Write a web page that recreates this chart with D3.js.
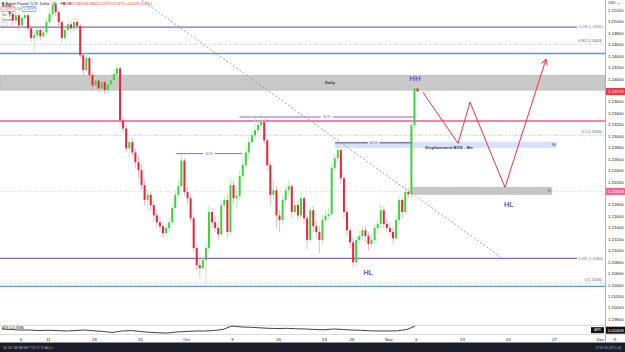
<!DOCTYPE html>
<html><head><meta charset="utf-8">
<script src="https://cdn.jsdelivr.net/npm/d3@7"></script>
<style>body{margin:0;background:#fff}svg{display:block;font-family:Arial,"Liberation Sans",sans-serif}</style>
</head><body><svg id="c" width="625" height="352"></svg>
<script>
// ---------- DATA ----------
const firstOpen = 1.2529;
const closes = [1.2523,1.2530,1.2513,1.2502,1.2511,1.2493,1.2506,1.2511,1.2488,1.2471,1.2476,1.2485,1.2474,1.2481,1.2499,1.2513,1.2529,1.2516,1.2499,1.2471,
1.2485,1.2495,1.2488,1.2499,1.2492,1.2441,1.2415,1.2436,1.2406,1.2388,1.2397,1.2383,1.2394,1.2380,1.2390,1.2397,1.2408,1.2418,1.2327,1.2313,
1.2278,1.2289,1.2271,1.2254,1.2240,1.2214,1.2188,1.2197,1.2179,1.2161,1.2149,1.2142,1.2130,1.2139,1.2149,1.2174,1.2197,1.2212,1.2257,1.2202,
1.2191,1.2156,1.2104,1.2074,1.2069,1.2083,1.2104,1.2167,1.2149,1.2139,1.2128,1.2179,1.2188,1.2132,1.2214,1.2191,1.2195,1.2230,1.2249,1.2271,
1.2289,1.2301,1.2310,1.2319,1.2324,1.2292,1.2249,1.2197,1.2205,1.2161,1.2153,1.2188,1.2205,1.2212,1.2167,1.2179,1.2161,1.2191,1.2156,1.2118,
1.2170,1.2142,1.2132,1.2118,1.2153,1.2160,1.2163,1.2244,1.2261,1.2275,1.2226,1.2167,1.2135,1.2114,1.2079,1.2118,1.2125,1.2135,1.2125,1.2111,
1.2118,1.2139,1.2146,1.2170,1.2146,1.2139,1.2132,1.2121,1.2153,1.2188,1.2167,1.2202,1.2198,1.2319,1.2383,1.23775];
const highs = [1.2534,1.2537,1.2532,1.2520,1.2516,1.2513,1.2513,1.2518,1.2513,1.2493,1.2485,1.2490,1.2488,1.2488,1.2506,1.2520,1.2535,1.2530,1.2520,1.2502,
1.2492,1.2502,1.2502,1.2506,1.2504,1.2495,1.2446,1.2446,1.2439,1.2411,1.2404,1.2401,1.2404,1.2401,1.2397,1.2408,1.2415,1.2425,1.2422,1.2334,
1.2320,1.2296,1.2296,1.2278,1.2265,1.2251,1.2223,1.2205,1.2202,1.2188,1.2170,1.2160,1.2149,1.2146,1.2156,1.2181,1.2205,1.2223,1.2270,1.2261,
1.2212,1.2197,1.2161,1.2109,1.2086,1.2090,1.2111,1.2179,1.2174,1.2160,1.2149,1.2188,1.2195,1.2198,1.2223,1.2223,1.2209,1.2240,1.2261,1.2278,
1.2299,1.2310,1.2336,1.2327,1.2338,1.2331,1.2296,1.2254,1.2223,1.2212,1.2170,1.2195,1.2214,1.2223,1.2216,1.2191,1.2188,1.2202,1.2195,1.2161,
1.2177,1.2179,1.2149,1.2142,1.2163,1.2170,1.2174,1.2251,1.2268,1.2287,1.2278,1.2233,1.2174,1.2142,1.2121,1.2125,1.2135,1.2142,1.2142,1.2132,
1.2128,1.2146,1.2156,1.2181,1.2177,1.2156,1.2149,1.2142,1.2163,1.2195,1.2191,1.2216,1.2209,1.2327,1.2387,1.2385];
const lows = [1.2516,1.2520,1.2506,1.2493,1.2495,1.2485,1.2488,1.2502,1.2481,1.2464,1.2446,1.2467,1.2467,1.2471,1.2478,1.2495,1.2511,1.2509,1.2492,1.2464,
1.2467,1.2479,1.2481,1.2485,1.2485,1.2436,1.2406,1.2411,1.2397,1.2380,1.2380,1.2376,1.2376,1.2373,1.2373,1.2383,1.2390,1.2401,1.2320,1.2306,
1.2271,1.2261,1.2265,1.2244,1.2226,1.2205,1.2177,1.2170,1.2167,1.2149,1.2139,1.2132,1.2121,1.2125,1.2132,1.2144,1.2170,1.2191,1.2209,1.2195,
1.2181,1.2149,1.2097,1.2065,1.2053,1.2065,1.2037,1.2097,1.2139,1.2132,1.2118,1.2125,1.2170,1.2121,1.2127,1.2181,1.2174,1.2188,1.2223,1.2244,
1.2261,1.2282,1.2296,1.2303,1.2310,1.2284,1.2240,1.2179,1.2188,1.2139,1.2132,1.2144,1.2179,1.2195,1.2156,1.2161,1.2153,1.2153,1.2146,1.2102,
1.2114,1.2132,1.2121,1.2095,1.2111,1.2149,1.2153,1.2160,1.2237,1.2254,1.2216,1.2156,1.2125,1.2104,1.2069,1.2072,1.2111,1.2118,1.2114,1.2100,
1.2104,1.2111,1.2128,1.2139,1.2139,1.2132,1.2125,1.2111,1.2118,1.2146,1.2156,1.2163,1.2191,1.2191,1.2313,1.2376];
const candlesPerDay = 3;
// ATR(14) read once per trading day
const atrValues = [0.00361,0.00354,0.00345,0.00345,0.00337,0.00341,0.00337,0.00329,0.00337,0.00345,0.00332,0.00321,0.00305,0.00329,0.00337,0.00321,
0.00308,0.00300,0.00296,0.00313,0.00321,0.00329,0.00329,0.00337,0.00354,0.00411,0.00395,0.00390,0.00381,0.00373,0.00370,0.00373,0.00365,0.00362,
0.00354,0.00349,0.00362,0.00354,0.00345,0.00341,0.00332,0.00329,0.00329,0.00332,0.00354,0.00408];
const atrDays = atrValues.map((v,i)=> i===atrValues.length-1 ? 44.9 : i);

// 1.23800 and 1.22000 are hidden behind the price tags in the reference
const priceTicks = [1.252,1.250,1.248,1.246,1.244,1.242,1.240,1.236,1.234,1.232,1.230,1.228,1.226,1.224,1.222,1.218,1.216,1.214,1.212,1.210,1.208,1.206,1.204,1.202,1.200,1.198];
const timeTickDays = [2,5,10,15,20,25,30,35,38,42,45,50,55,60,65];
const timeTickLabels = ["6","11","18","25","Oct","9","16","23","26","Nov","6","13","20","27","Dec"];

const lastPrice = 1.23775, secondPrice = 1.22029, lastAtr = 0.00408;
const purpleLevels = [1.2490, 1.2086];
const purpleLabels = ["0.236 (1.24935)", "0.382 (1.20866)"];
const dottedLevels = [1.2460, 1.2301, 1.2043];
const dottedLabels = ["0.382 (1.24603)", "0.5 (1.23006)", "0 (1.20436)"];
const blueLevels = [1.2444, 1.2037];
const pinkLevels = [1.2326];
const dailyZone = [1.2380, 1.2406];
const displacementZone = {d0:36.2, d1:60.3, p0:1.2279, p1:1.2290};
const flZone = {d0:44.6, d1:59.8, p0:1.2197, p1:1.2211};
const bosPurple = [{d0:18.9, d1:26.1, p:1.2269}, {d0:25.8, d1:44.8, p:1.2333}];
const bosGray = [{d0:36.2, d1:44.6, p:1.2288}];
const trendLine = [[15.2,1.2537],[54.67,1.2083]];
const zigzag = [[45.76,1.2376],[49.57,1.2287],[50.87,1.2359],[54.67,1.2210],[59.13,1.2434]];
const swingLabels = [{t:"HH", d:44.9, p:1.2401},{t:"HL", d:39.8, p:1.2062},{t:"HL", d:55.1, p:1.2181}];

// ---------- CHART ----------
const svg = d3.select("#c");
const paneR = 605, mainBottom = 325, atrBottom = 334.5;
const x = d3.scaleLinear().domain([0,65]).range([2,600]);
const y = d3.scaleLinear().domain([1.198,1.252]).range([319,10]);
const ya = d3.scaleLinear().domain([0.0028,0.0046]).range([334,323]);

svg.append("rect").attr("width",625).attr("height",352).attr("fill","#fff");
svg.append("defs").append("clipPath").attr("id","mc").append("rect").attr("x",0).attr("y",0).attr("width",paneR).attr("height",mainBottom);
const g = svg.append("g").attr("clip-path","url(#mc)");

// zones
g.append("rect").attr("x",0).attr("width",paneR).attr("y",y(dailyZone[1])).attr("height",y(dailyZone[0])-y(dailyZone[1]))
 .attr("fill","#c9c9c9").attr("stroke","#b3b3b3").attr("stroke-width",0.6);
g.append("rect").attr("x",x(displacementZone.d0)).attr("width",x(displacementZone.d1)-x(displacementZone.d0))
 .attr("y",y(displacementZone.p1)).attr("height",y(displacementZone.p0)-y(displacementZone.p1)).attr("fill","#d6e3fb");
g.append("rect").attr("x",x(flZone.d0)).attr("width",x(flZone.d1)-x(flZone.d0))
 .attr("y",y(flZone.p1)).attr("height",y(flZone.p0)-y(flZone.p1)).attr("fill","#c6c6c6");

// levels
const labX = 578;
purpleLevels.forEach((p,i)=>{
  g.append("line").attr("x1",0).attr("x2",labX-1).attr("y1",y(p)).attr("y2",y(p)).attr("stroke","#8468c9").attr("stroke-width",1.3);
  g.append("text").attr("x",labX+1).attr("y",y(p)).attr("dy","0.35em").attr("font-size",3.4).attr("fill","#8468c9").text(purpleLabels[i]);
});
dottedLevels.forEach((p,i)=>{
  g.append("line").attr("x1",0).attr("x2",paneR).attr("y1",y(p)).attr("y2",y(p)).attr("stroke","#a0a0a0").attr("stroke-width",0.6).attr("stroke-dasharray","1,1.5");
  g.append("text").attr("x",paneR-3).attr("y",y(p)-2).attr("text-anchor","end").attr("font-size",3.4).attr("fill","#666").text(dottedLabels[i]);
});
blueLevels.forEach(p=>g.append("line").attr("x1",0).attr("x2",paneR).attr("y1",y(p)).attr("y2",y(p)).attr("stroke","#5b95ef").attr("stroke-width",1.3));
pinkLevels.forEach(p=>g.append("line").attr("x1",0).attr("x2",paneR).attr("y1",y(p)).attr("y2",y(p)).attr("stroke","#ef5b8c").attr("stroke-width",1.3));
g.append("line").attr("x1",0).attr("x2",paneR).attr("y1",y(secondPrice)).attr("y2",y(secondPrice)).attr("stroke","#f3a3bd").attr("stroke-width",0.6).attr("stroke-dasharray","1,1.5");

// candles
const candles = closes.map((c,i)=>({d:(i+0.5)/candlesPerDay, o:i===0?firstOpen:closes[i-1], h:highs[i], l:lows[i], c}));
const cg = g.append("g");
cg.selectAll("line.w").data(candles).join("line").attr("class","w")
 .attr("x1",d=>x(d.d)).attr("x2",d=>x(d.d)).attr("y1",d=>y(d.h)).attr("y2",d=>y(d.l))
 .attr("stroke",d=>d.c>=d.o?"#a9eda9":"#f5a3ad").attr("stroke-width",0.8);
cg.selectAll("rect.b").data(candles).join("rect").attr("class","b")
 .attr("x",d=>x(d.d)-1).attr("width",2)
 .attr("y",d=>y(Math.max(d.o,d.c))).attr("height",d=>Math.max(0.7,Math.abs(y(d.o)-y(d.c))))
 .attr("fill",d=>d.c>=d.o?"#3ad63a":"#f2213a");

// BOS
function bos(seg,color,w){
  const mid=(x(seg.d0)+x(seg.d1))/2, yy=y(seg.p);
  g.append("line").attr("x1",x(seg.d0)).attr("x2",mid-6).attr("y1",yy).attr("y2",yy).attr("stroke",color).attr("stroke-width",w);
  g.append("line").attr("x1",mid+6).attr("x2",x(seg.d1)).attr("y1",yy).attr("y2",yy).attr("stroke",color).attr("stroke-width",w);
  g.append("text").attr("x",mid).attr("y",yy).attr("dy","0.35em").attr("text-anchor","middle").attr("font-size",3.4).attr("fill",color).text("BOS");
}
bosPurple.forEach(s=>bos(s,"#8270cf",1));
bosGray.forEach(s=>bos(s,"#7b8494",1.6));

// trend line
g.append("line").attr("x1",x(trendLine[0][0])).attr("y1",y(trendLine[0][1])).attr("x2",x(trendLine[1][0])).attr("y2",y(trendLine[1][1]))
 .attr("stroke","#8a8a8a").attr("stroke-width",0.8).attr("stroke-dasharray","2,2");

// zigzag
const zl = d3.line().x(d=>x(d[0])).y(d=>y(d[1]));
g.append("path").attr("d",zl(zigzag)).attr("fill","none").attr("stroke","#ff2a3a").attr("stroke-width",1);
{
  const a=zigzag[zigzag.length-2], b=zigzag[zigzag.length-1];
  const x1=x(a[0]),y1=y(a[1]),x2=x(b[0]),y2=y(b[1]);
  const ang=Math.atan2(y2-y1,x2-x1), L=6;
  const pts=[[x2-L*Math.cos(ang-0.5),y2-L*Math.sin(ang-0.5)],[x2,y2],[x2-L*Math.cos(ang+0.5),y2-L*Math.sin(ang+0.5)]];
  g.append("path").attr("d",d3.line()(pts)).attr("fill","none").attr("stroke","#ff2a3a").attr("stroke-width",1);
}

// text labels
swingLabels.forEach(s=>g.append("text").attr("x",x(s.d)).attr("y",y(s.p)).attr("dy","0.35em").attr("text-anchor","middle")
 .attr("font-size",s.t==="HH"?8:7.5).attr("font-weight","bold").attr("fill","#7e5fc4").text(s.t));
g.append("text").attr("x",x(35.65)).attr("y",y((dailyZone[0]+dailyZone[1])/2)).attr("dy","0.35em").attr("text-anchor","middle")
 .attr("font-size",4.2).attr("font-weight","bold").attr("fill","#333").text("Daily");
g.append("text").attr("x",x(46)).attr("y",y(displacementZone.p0)).attr("dy","0.35em").attr("font-size",4.2).attr("font-weight","bold").attr("fill","#333").text("Displacement BOS - 4hr");
g.append("text").attr("x",x(displacementZone.d1)-1).attr("y",y((displacementZone.p0+displacementZone.p1)/2)).attr("dy","0.35em").attr("text-anchor","end").attr("font-size",3).attr("fill","#555").text("BB");
g.append("text").attr("x",x(flZone.d1)-1).attr("y",y((flZone.p0+flZone.p1)/2)).attr("dy","0.35em").attr("text-anchor","end").attr("font-size",3).attr("fill","#555").text("FL");

// ---------- ATR pane ----------
svg.append("line").attr("x1",0).attr("x2",paneR).attr("y1",mainBottom+0.5).attr("y2",mainBottom+0.5).attr("stroke","#d9d9d9").attr("stroke-width",1);
const al = d3.line().x((d,i)=>x(atrDays[i])).y(d=>ya(d)).curve(d3.curveLinear);
svg.append("path").attr("d",al(atrValues)).attr("fill","none").attr("stroke","#111").attr("stroke-width",0.8);
svg.append("text").attr("x",2).attr("y",329).attr("font-size",3.3).attr("fill","#333").text("ATR (14) RMA");
svg.append("rect").attr("x",591).attr("y",ya(lastAtr)+1).attr("width",13).attr("height",6).attr("fill","#131313");
svg.append("text").attr("x",597.5).attr("y",ya(lastAtr)+4).attr("dy","0.35em").attr("text-anchor","middle").attr("font-size",3.4).attr("fill","#fff").text("ATR");

// ---------- axes ----------
svg.append("line").attr("x1",paneR+0.5).attr("x2",paneR+0.5).attr("y1",0).attr("y2",342.5).attr("stroke","#9e9e9e").attr("stroke-width",0.8);
const yAxis = d3.axisRight(y).tickValues(priceTicks).tickFormat(d3.format(".5f")).tickSize(0).tickPadding(3);
const ya_g = svg.append("g").attr("transform",`translate(${paneR},0)`).call(yAxis);
ya_g.select(".domain").remove();
ya_g.selectAll("text").attr("font-size",4.3).attr("fill","#131722").attr("font-family","Arial, sans-serif");
svg.append("text").attr("x",608).attr("y",4).attr("font-size",3.6).attr("fill","#333").text("USD ⌄");

function priceTag(p,fill){
  svg.append("rect").attr("x",paneR+1).attr("y",y(p)-3.6).attr("width",20).attr("height",7.2).attr("fill",fill);
  svg.append("text").attr("x",paneR+3).attr("y",y(p)).attr("dy","0.35em").attr("font-size",4.3).attr("fill","#fff").text(d3.format(".5f")(p));
}
priceTag(lastPrice,"#f23645");
priceTag(secondPrice,"#f06791");
svg.append("rect").attr("x",paneR+1).attr("y",ya(lastAtr)+0.5).attr("width",20).attr("height",7).attr("fill","#131313");
svg.append("text").attr("x",paneR+3).attr("y",ya(lastAtr)+4).attr("dy","0.35em").attr("font-size",4.3).attr("fill","#fff").text(d3.format(".5f")(lastAtr));

svg.append("line").attr("x1",0).attr("x2",625).attr("y1",atrBottom).attr("y2",atrBottom).attr("stroke","#d0d0d0").attr("stroke-width",0.8);
const xAxis = d3.axisBottom(x).tickValues(timeTickDays).tickFormat((d,i)=>timeTickLabels[i]).tickSize(0).tickPadding(3);
const xa_g = svg.append("g").attr("transform",`translate(0,${atrBottom})`).call(xAxis);
xa_g.select(".domain").remove();
xa_g.selectAll("text").attr("font-size",4.3).attr("fill","#131722").attr("font-family","Arial, sans-serif");
svg.append("text").attr("x",615).attr("y",340.5).attr("text-anchor","middle").attr("font-size",4).attr("fill","#555").text("⚙");

// bottom toolbar
svg.append("rect").attr("x",0).attr("y",342.5).attr("width",625).attr("height",9.5).attr("fill","#1a1e2a");
svg.append("text").attr("x",3).attr("y",348.5).attr("font-size",3.2).attr("fill","#b8bcc8").text("1D  5D  1M  3M  6M  YTD  1Y  5Y  All  |  ⏱");
svg.append("text").attr("x",621).attr("y",348.5).attr("text-anchor","end").attr("font-size",3.2).attr("fill","#b8bcc8").text("17:37:45 (UTC+8)");

// ---------- legend ----------
svg.append("circle").attr("cx",3).attr("cy",3.6).attr("r",1.5).attr("fill","#5a6fa8");
svg.append("text").attr("x",5.5).attr("y",5).attr("font-size",3.8).attr("fill","#131722").text("British Pound / U.S. Dollar · 4h · FXCM");
svg.append("circle").attr("cx",64).attr("cy",3.6).attr("r",1.3).attr("fill","#f23645");
svg.append("text").attr("x",70).attr("y",5).attr("font-size",3.3).attr("fill","#f23645").attr("textLength",82).text("O1.23652 H1.23843 L1.23773 C1.23775 +0.00123 (+0.10%)");
svg.append("rect").attr("x",1).attr("y",6.5).attr("width",14).attr("height",5).attr("fill","#fff").attr("stroke","#f23645").attr("stroke-width",0.5).attr("rx",0.8);
svg.append("text").attr("x",8).attr("y",9).attr("dy","0.35em").attr("text-anchor","middle").attr("font-size",3.2).attr("fill","#f23645").text("1.23757");
svg.append("text").attr("x",18.5).attr("y",9).attr("dy","0.35em").attr("text-anchor","middle").attr("font-size",3).attr("fill","#555").text("0.0");
svg.append("rect").attr("x",22).attr("y",6.5).attr("width",14).attr("height",5).attr("fill","#fff").attr("stroke","#2962ff").attr("stroke-width",0.5).attr("rx",0.8);
svg.append("text").attr("x",29).attr("y",9).attr("dy","0.35em").attr("text-anchor","middle").attr("font-size",3.2).attr("fill","#2962ff").text("1.23797");
svg.append("text").attr("x",2).attr("y",15.5).attr("font-size",3.2).attr("fill","#555").text("Vol · ☐");
svg.append("text").attr("x",2).attr("y",20.5).attr("font-size",3.2).attr("fill","#555").text("Session · ☐");
svg.append("rect").attr("x",2).attr("y",22.5).attr("width",5).attr("height",3.5).attr("fill","#fff").attr("stroke","#aaa").attr("stroke-width",0.4);
</script></body></html>
